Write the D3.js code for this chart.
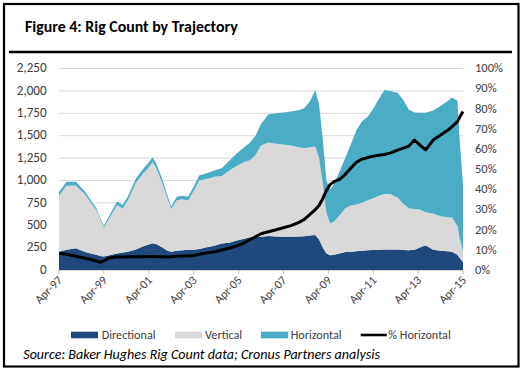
<!DOCTYPE html>
<html>
<head>
<meta charset="utf-8">
<script src="https://cdn.jsdelivr.net/npm/d3@7"></script>
<style>
html,body{margin:0;padding:0;background:#fff;}
svg{display:block;}
text{font-family:Carlito, Lato, "Open Sans", sans-serif;}
</style>
</head>
<body>
<svg id="chart" width="523" height="371"></svg>
<script>
// ---- Data ----
const dates = ["1997-04","1997-08","1998-01","1998-06","1998-09","1998-12","1999-02","1999-04","1999-07","1999-11",
"2000-02","2000-05","2000-09","2001-01","2001-04","2001-06","2001-08","2001-11","2002-02","2002-04",
"2002-07","2002-10","2003-01","2003-04","2003-07","2003-11","2004-03","2004-07","2004-11","2005-03",
"2005-07","2005-10","2006-01","2006-04","2006-08","2006-12","2007-04","2007-08","2007-12","2008-03",
"2008-06","2008-09","2008-11","2009-01","2009-03","2009-05","2009-07","2009-10","2010-01","2010-04",
"2010-07","2010-10","2011-01","2011-04","2011-07","2011-10","2012-01","2012-05","2012-08","2012-11",
"2013-02","2013-05","2013-08","2013-12","2014-04","2014-08","2014-10","2015-01","2015-02","2015-04"];

const directional = [205,225,242,200,185,170,155,150,165,185,
195,205,230,265,285,300,290,255,215,205,
215,220,225,225,235,255,270,295,305,330,
350,365,370,372,380,375,370,372,375,378,
385,390,340,250,185,165,170,185,200,205,
210,215,220,222,225,228,230,228,222,220,
225,250,275,225,215,210,205,170,140,90];

const vertical = [625,715,701,640,565,497,408,323,415,540,
493,580,745,815,860,905,848,726,580,475,
565,570,550,657,763,760,770,755,805,830,
855,860,915,1018,1045,1035,1030,1018,995,982,
985,990,910,720,455,355,370,425,490,515,
520,535,560,578,605,622,620,582,518,470,
455,425,370,405,385,380,380,320,230,110];

const horizontal = [40,45,42,35,30,23,17,17,30,40,
38,45,45,50,55,55,52,43,35,30,
38,40,43,48,57,65,70,85,110,140,
165,195,215,240,315,340,360,380,415,445,
510,630,600,480,360,380,420,490,560,680,
830,910,930,1000,1080,1160,1150,1170,1160,1100,
1080,1080,1110,1150,1230,1300,1340,1400,1130,750];

const pctHorizontal = [8.3,7.8,6.8,5.8,5.2,4.5,3.8,4.5,6.0,6.6,
6.4,6.6,6.6,6.6,6.7,6.7,6.6,6.6,6.5,6.6,
6.8,7.0,7.0,7.2,7.8,8.5,9.0,9.9,10.8,12.0,
13.5,15.0,16.5,18.0,19.0,20.0,21.0,22.0,23.5,25.0,
27.5,30.0,32.0,35.5,39.5,42.5,43.8,45.0,47.5,50.5,
53.5,55.0,55.8,56.5,57.0,57.3,58.0,59.5,60.5,61.5,
64.5,62.0,59.6,64.5,67.0,69.5,71.0,73.6,75.5,78.6];

const leftTicks = [0,250,500,750,1000,1250,1500,1750,2000,2250];
const rightTicks = [0,0.1,0.2,0.3,0.4,0.5,0.6,0.7,0.8,0.9,1.0];
const xTickLabels = ["Apr-97","Apr-99","Apr-01","Apr-03","Apr-05","Apr-07","Apr-09","Apr-11","Apr-13","Apr-15"];
const seriesNames = ["Directional","Vertical","Horizontal","% Horizontal"];
const titleText = "Figure 4: Rig Count by Trajectory";
const sourceText = "Source: Baker Hughes Rig Count data; Cronus Partners analysis";

// ---- Build table ----
const parse = d3.timeParse("%Y-%m");
const parseTick = d3.timeParse("%b-%y");
const rows = dates.map((d,i)=>({date:parse(d), directional:directional[i], vertical:vertical[i], horizontal:horizontal[i], pct:pctHorizontal[i]/100}));
const keys = ["directional","vertical","horizontal"];
const colors = {directional:"#1f497d", vertical:"#d9d9d9", horizontal:"#4bacc6"};

const svg = d3.select("#chart");

// frame
svg.append("rect").attr("x",4).attr("y",4).attr("width",514.5).attr("height",362.5)
  .attr("fill","#fff").attr("stroke","#000").attr("stroke-width",2.2);

function fit(sel, target){
  const n = sel.node();
  const fs = parseFloat(sel.attr("font-size"));
  const w = n.getComputedTextLength();
  const nf = fs*target/w;
  sel.attr("font-size", nf);
  return nf;
}

// title
const title = svg.append("text").attr("x",25).attr("y",31.5).attr("font-size",14)
  .attr("font-weight","bold").attr("fill","#000").text(titleText);
fit(title,213);
svg.append("line").attr("x1",9).attr("x2",512).attr("y1",52).attr("y2",52)
  .attr("stroke","#000").attr("stroke-width",2.4);

// scales
const x = d3.scaleTime().domain([parse("1997-04"), parse("2015-04")]).range([59,463]);
const y = d3.scaleLinear().domain([0,2250]).range([270,68.5]);
const y2 = d3.scaleLinear().domain([0,1]).range([270,68.5]);

// gridlines
svg.append("g").selectAll("line").data(leftTicks.slice(1)).join("line")
  .attr("x1",59).attr("x2",463).attr("y1",d=>y(d)).attr("y2",d=>y(d))
  .attr("stroke","#d9d9d9").attr("stroke-width",1);

// stacked areas
const stack = d3.stack().keys(keys);
const layers = stack(rows);
const area = d3.area().x(d=>x(d.data.date)).y0(d=>y(d[0])).y1(d=>y(d[1]));
svg.append("g").selectAll("path").data(layers).join("path")
  .attr("d",area).attr("fill",d=>colors[d.key]);

// % horizontal line
const line = d3.line().x(d=>x(d.date)).y(d=>y2(d.pct));
svg.append("path").datum(rows).attr("d",line).attr("fill","none")
  .attr("stroke","#000").attr("stroke-width",3).attr("stroke-linejoin","round");

// x axis ticks
const xTickDates = xTickLabels.map(s=>parseTick(s));
svg.append("line").attr("x1",59).attr("x2",463).attr("y1",270.5).attr("y2",270.5)
  .attr("stroke","#d9d9d9").attr("stroke-width",1);
svg.append("g").selectAll("line").data(xTickDates).join("line")
  .attr("x1",d=>x(d)).attr("x2",d=>x(d)).attr("y1",270).attr("y2",274)
  .attr("stroke","#bfbfbf").attr("stroke-width",1);

// left axis labels
const lt = svg.append("g").selectAll("text").data(leftTicks).join("text")
  .attr("x",46.7).attr("y",d=>y(d)+3.8).attr("text-anchor","end")
  .attr("font-size",11).attr("fill","#404040").text(d=>d3.format(",")(d));
const lfs = fit(lt.filter(d=>d===2250),30);
lt.attr("font-size",lfs);

// right axis labels
const rt = svg.append("g").selectAll("text").data(rightTicks).join("text")
  .attr("x",475).attr("y",d=>y2(d)+3.8).attr("text-anchor","start")
  .attr("font-size",11).attr("fill","#404040").text(d=>d3.format(".0%")(d));
const rfs = fit(rt.filter(d=>d===1.0),28);
rt.attr("font-size",rfs);

// x labels rotated
const xl = svg.append("g").selectAll("text").data(xTickDates).join("text")
  .attr("text-anchor","end").attr("font-size",11).attr("fill","#404040")
  .attr("transform",d=>`translate(${x(d)+4},${281}) rotate(-45)`)
  .text((d,i)=>xTickLabels[i]);
const xfs = fit(xl.filter((d,i)=>i===0),33);
xl.attr("font-size",xfs);

// legend
const legY = 335;
const leg = [
  {name:seriesNames[0], sx:71, tx:101.7, tw:54, type:"rect", color:colors.directional},
  {name:seriesNames[1], sx:175, tx:205, tw:38, type:"rect", color:colors.vertical},
  {name:seriesNames[2], sx:261, tx:290.7, tw:52, type:"rect", color:colors.horizontal},
  {name:seriesNames[3], sx:360.7, tx:388.3, tw:66.7, type:"line", color:"#000"}
];
const lg = svg.append("g");
let legFs = null;
leg.forEach((l,i)=>{
  if(l.type==="rect"){
    lg.append("rect").attr("x",l.sx).attr("y",legY-3.3).attr("width",27).attr("height",6.6).attr("fill",l.color);
  } else {
    lg.append("line").attr("x1",l.sx).attr("x2",l.sx+26).attr("y1",legY).attr("y2",legY)
      .attr("stroke",l.color).attr("stroke-width",2.6);
  }
  const t = lg.append("text").attr("x",l.tx).attr("y",legY+4).attr("font-size",11.5)
    .attr("fill","#404040").text(l.name);
  if(i===0){ legFs = fit(t,l.tw); } else { t.attr("font-size",legFs); }
});

// source
const src = svg.append("text").attr("x",23.3).attr("y",358.5).attr("font-size",11.5)
  .attr("font-style","italic").attr("fill","#000").text(sourceText);
fit(src,357);
</script>
</body>
</html>
